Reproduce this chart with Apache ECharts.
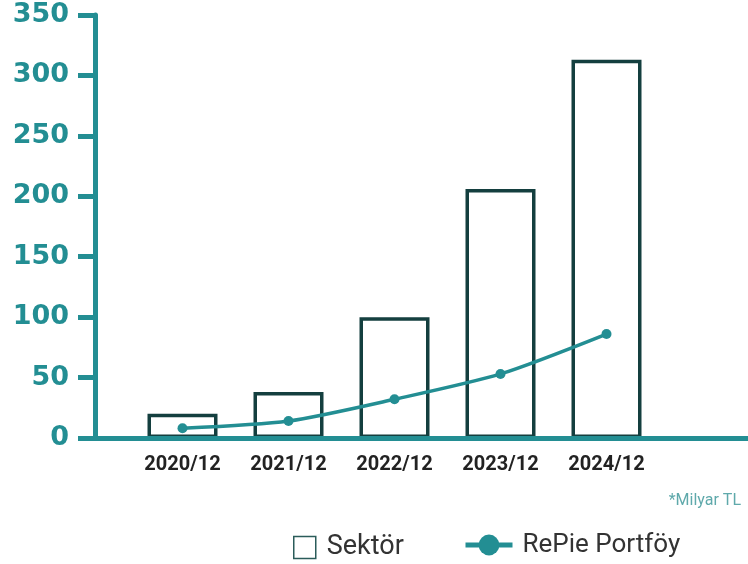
<!DOCTYPE html>
<html><head><meta charset="utf-8">
<script src="https://cdn.jsdelivr.net/npm/echarts@6/dist/echarts.min.js"></script>
<style>html,body{margin:0;padding:0;background:#fff}#c{width:748px;height:564px}</style>
</head><body><div id="c"></div>
<script>
const categories = ['2020/12','2021/12','2022/12','2023/12','2024/12'];
const sektor = [20, 38, 100, 206, 313];
const repie = [8, 14, 32, 53, 86];
const yTicks = [0, 50, 100, 150, 200, 250, 300, 350];

const TEAL = '#238e93';
const DARK = '#143f3f';
const chart = echarts.init(document.getElementById('c'));
chart.setOption({
  animation: false,
  title: {
    text: '*Milyar TL', right: 2, top: 488,
    textStyle: { fontSize: 16, fontWeight: 'normal', color: '#5fa9ab', fontFamily: 'Roboto' }
  },
  legend: [
    { left: 288, top: 529, itemWidth: 22, itemHeight: 22, itemGap: 0,
      textStyle: { fontSize: 27, color: '#333', fontFamily: 'Roboto', padding: [0,0,0,6] },
      data: [{ name: 'Sektör', icon: 'rect', itemStyle: { color: '#fff', borderColor: '#2b5c5a', borderWidth: 1.5 } }] },
    { left: 458, top: 527, itemWidth: 47, itemHeight: 26, itemGap: 0,
      textStyle: { fontSize: 26, color: '#333', fontFamily: 'Roboto', padding: [0,0,0,5] },
      lineStyle: { width: 5 },
      data: [{ name: 'RePie Portföy' }] }
  ],
  grid: [
    { left: 129.5, right: 88.5, top: 15, bottom: 126 },
    { left: 93, right: 0, top: 15, bottom: 126 }
  ],
  xAxis: [
    { type: 'category', data: categories, gridIndex: 0,
      axisLine: { show: false }, axisTick: { show: false },
      axisLabel: { fontSize: 20, fontWeight: 'bold', color: '#222', fontFamily: 'Roboto', margin: 17 } },
    { type: 'value', gridIndex: 1, min: 0, max: 1, z: 10,
      axisLine: { show: true, lineStyle: { color: TEAL, width: 5 } },
      axisTick: { show: false }, axisLabel: { show: false }, splitLine: { show: false } }
  ],
  yAxis: [
    { type: 'value', gridIndex: 0, min: 0, max: 350, interval: 50, offset: 34.5, z: 10,
      axisLine: { show: true, lineStyle: { color: TEAL, width: 5 } },
      axisTick: { show: true, length: 17, lineStyle: { color: TEAL, width: 5 } },
      axisLabel: { fontSize: 27, fontWeight: 'bold', color: TEAL, fontFamily: 'DejaVu Sans', margin: 26,
        formatter: v => yTicks.includes(v) ? String(v) : '' },
      splitLine: { show: false } },
    { type: 'value', gridIndex: 1, show: false }
  ],
  series: [
    { name: 'Sektör', type: 'bar', data: sektor, barWidth: 70,
      itemStyle: { color: '#fff', borderColor: DARK, borderWidth: 3.5 } },
    { name: 'RePie Portföy', type: 'line', data: repie, smooth: 0.25,
      symbol: 'circle', symbolSize: 10, z: 5,
      lineStyle: { color: TEAL, width: 3.5 }, itemStyle: { color: TEAL } }
  ]
});
</script></body></html>
